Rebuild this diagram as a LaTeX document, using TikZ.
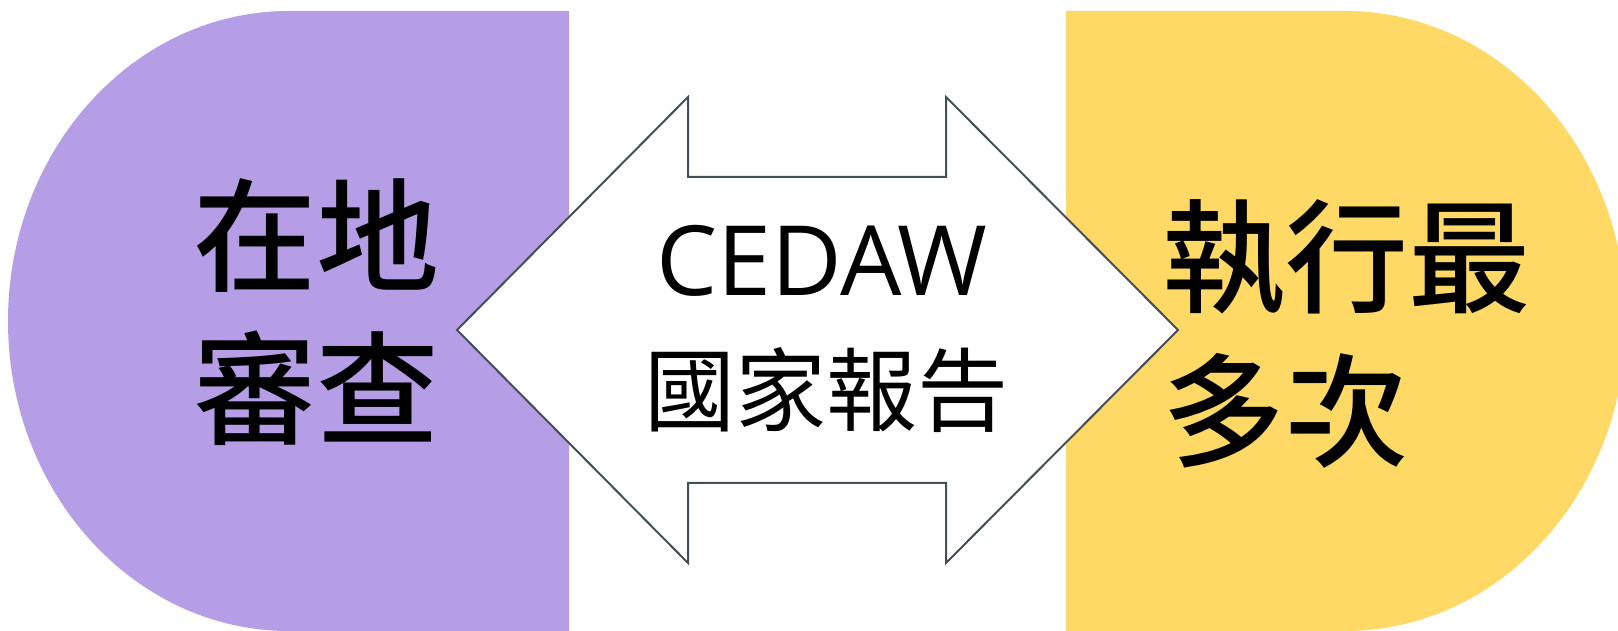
\documentclass[tikz,border=0pt]{standalone}
\usepackage{fontspec}
\newfontfamily\cjk{Noto Sans CJK TC}
\newfontfamily\cjkm{Noto Sans CJK TC Medium}
\newfontfamily\latinf{Open Sans}
\definecolor{lav}{RGB}{181,158,229}
\definecolor{gold}{RGB}{255,217,102}
\definecolor{arrowline}{RGB}{67,80,88}
\tikzset{
  bigtxt/.style={inner sep=0pt, outer sep=0pt, anchor=base west, font=\cjkm\fontsize{123}{123}\selectfont, text=black},
  midcjk/.style={inner sep=0pt, outer sep=0pt, anchor=base, font=\cjk\fontsize{91}{91}\selectfont, text=black},
  midlat/.style={inner sep=0pt, outer sep=0pt, anchor=base, font=\latinf\fontsize{97}{97}\selectfont, text=black},
  arrowshape/.style={draw=arrowline, line width=2pt, fill=white, line join=miter}
}
\begin{document}
\begin{tikzpicture}[x=1pt,y=1pt]
\useasboundingbox (0,0) rectangle (1618,631);
\clip (0,0) rectangle (1618,631);
\fill[white] (0,0) rectangle (1618,631);
% left half-ellipse panel
\fill[lav] (569,620) -- (289,620) arc[start angle=90, end angle=270, x radius=281, y radius=310] -- (569,0) -- cycle;
% right half-ellipse panel
\fill[gold] (1066,620) -- (1345,620) arc[start angle=90, end angle=-90, x radius=281, y radius=310] -- (1066,0) -- cycle;
% double arrow
\draw[arrowshape] (457,301) -- (688,534) -- (688,454) -- (946,454) -- (946,534) -- (1178,301) -- (946,68) -- (946,148) -- (688,148) -- (688,68) -- cycle;
% texts
\node[bigtxt] (l1) at (193,348) {在地};
\node[bigtxt] (l2) at (193,195) {審查};
\node[bigtxt] (r1) at (1162,327) {執行最};
\node[bigtxt] (r2) at (1162,173) {多次};
\node[midlat] (c1) at (822,335) {CEDAW};
\node[midcjk] (c2) at (826,206) {國家報告};
\end{tikzpicture}
\end{document}
